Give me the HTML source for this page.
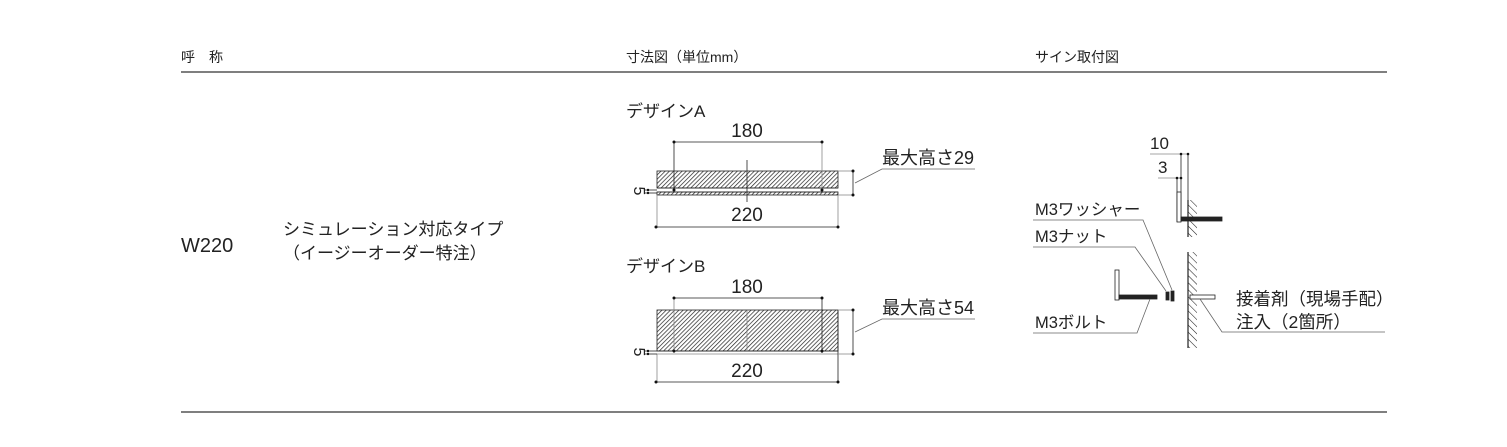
<!DOCTYPE html>
<html><head><meta charset="utf-8"><style>
html,body{margin:0;padding:0;background:#fff;}
svg{display:block;}
text{font-family:"Liberation Sans","Noto Sans CJK JP",sans-serif;fill:#222;}
</style></head><body>
<svg width="1507" height="447" viewBox="0 0 1507 447" xmlns="http://www.w3.org/2000/svg">
<defs>
<pattern id="h" width="3" height="3" patternUnits="userSpaceOnUse" patternTransform="rotate(45)">
<rect width="3" height="3" fill="#fff"/><line x1="0" y1="0" x2="0" y2="3" stroke="#222" stroke-width="1.4"/>
</pattern>
<pattern id="w" width="5" height="5" patternUnits="userSpaceOnUse" patternTransform="rotate(-45)">
<line x1="0" y1="0" x2="0" y2="5" stroke="#222" stroke-width="1.1"/>
</pattern>
</defs>
<text x="181" y="62" font-size="14">呼　称</text>
<text x="626" y="62" font-size="14">寸法図（単位mm）</text>
<text x="1035" y="62" font-size="14">サイン取付図</text>
<line x1="181" y1="72" x2="1387" y2="72" stroke="#333" stroke-width="1.2"/>
<line x1="181" y1="412" x2="1387" y2="412" stroke="#333" stroke-width="1.2"/>
<text x="181" y="252" font-size="20">W220</text>
<text x="283" y="235" font-size="17">シミュレーション対応タイプ</text>
<text x="283" y="259" font-size="17">（イージーオーダー特注）</text>

<g stroke="#222" fill="none" stroke-width="0.8">
<rect x="657" y="171" width="181" height="17" fill="url(#h)"/>
<rect x="657" y="192" width="181" height="3" fill="url(#h)"/>
<line x1="657" y1="188" x2="838" y2="188"/><line x1="657" y1="192" x2="838" y2="192"/>
<line x1="674" y1="142" x2="822" y2="142"/>
<line x1="674" y1="142" x2="674" y2="190"/><line x1="822" y1="142" x2="822" y2="190" stroke="#888"/>
<line x1="747" y1="160" x2="747" y2="202"/>
<line x1="657" y1="195" x2="657" y2="228" stroke="#888"/><line x1="838" y1="195" x2="838" y2="228" stroke="#888"/>
<line x1="656" y1="227" x2="838" y2="227"/>
<line x1="838" y1="171" x2="853" y2="171" stroke="#888"/><line x1="838" y1="195" x2="853" y2="195" stroke="#888"/>
<line x1="853" y1="171" x2="853" y2="195"/>
<polyline points="855,183 882,169 975,169" stroke="#666"/>
<line x1="645" y1="190" x2="657" y2="190"/><line x1="645" y1="193" x2="657" y2="193"/>
<rect x="657" y="310" width="181" height="41" fill="url(#h)"/>
<line x1="657" y1="351" x2="838" y2="351"/><line x1="657" y1="354" x2="838" y2="354" stroke="#888"/>
<line x1="674" y1="298" x2="822" y2="298"/>
<line x1="674" y1="298" x2="674" y2="353" stroke="#888"/><line x1="822" y1="298" x2="822" y2="353"/>
<line x1="747" y1="310" x2="747" y2="351" stroke="#888"/>
<line x1="657" y1="354" x2="657" y2="383" stroke="#888"/><line x1="838" y1="310" x2="838" y2="383"/>
<line x1="656" y1="382" x2="838" y2="382"/>
<line x1="838" y1="310" x2="853" y2="310" stroke="#888"/><line x1="838" y1="354" x2="853" y2="354" stroke="#888"/>
<line x1="853" y1="310" x2="853" y2="354"/>
<polyline points="855,332 882,319 975,319" stroke="#666"/>
<line x1="645" y1="351" x2="657" y2="351"/><line x1="645" y1="354" x2="657" y2="354"/>
</g>
<g fill="#111">
<circle cx="674" cy="142" r="1.5"/><circle cx="822" cy="142" r="1.5"/>
<circle cx="674" cy="190" r="1.5"/><circle cx="822" cy="190" r="1.5"/>
<circle cx="656" cy="227" r="1.5"/><circle cx="838" cy="227" r="1.5"/>
<circle cx="853" cy="171" r="1.5"/><circle cx="853" cy="195" r="1.5"/>
<circle cx="648" cy="190" r="1.2"/><circle cx="648" cy="193" r="1.2"/>
<circle cx="674" cy="298" r="1.5"/><circle cx="822" cy="298" r="1.5"/>
<circle cx="674" cy="351" r="1.5"/><circle cx="822" cy="351" r="1.5"/>
<circle cx="656" cy="382" r="1.5"/><circle cx="838" cy="382" r="1.5"/>
<circle cx="853" cy="310" r="1.5"/><circle cx="853" cy="354" r="1.5"/>
<circle cx="648" cy="351" r="1.2"/><circle cx="648" cy="354" r="1.2"/>
</g>
<text x="626" y="117" font-size="17">デザインA</text>
<text x="747" y="137" font-size="19" text-anchor="middle">180</text>
<text x="747" y="221" font-size="19" text-anchor="middle">220</text>
<text x="882" y="164" font-size="18">最大高さ29</text>
<text transform="translate(634,191) rotate(90)" font-size="16" text-anchor="middle">5</text>
<text x="626" y="272" font-size="17">デザインB</text>
<text x="747" y="293" font-size="19" text-anchor="middle">180</text>
<text x="747" y="377" font-size="19" text-anchor="middle">220</text>
<text x="882" y="314" font-size="18">最大高さ54</text>
<text transform="translate(634,352) rotate(90)" font-size="16" text-anchor="middle">5</text>

<g stroke="#222" fill="none" stroke-width="0.8">
<line x1="1150" y1="154" x2="1188" y2="154" stroke="#888"/>
<line x1="1158" y1="178" x2="1181" y2="178" stroke="#888"/>
<line x1="1181" y1="154" x2="1181" y2="222"/><line x1="1188" y1="154" x2="1188" y2="200"/>
<line x1="1177" y1="178" x2="1177" y2="222"/>
<rect x="1177" y="192" width="4" height="30" fill="#fff"/>
<rect x="1188" y="200" width="9" height="37" fill="url(#w)" stroke="none"/>
<line x1="1188" y1="200" x2="1188" y2="237" stroke-width="1.2"/>
<rect x="1181" y="217" width="41" height="4" fill="#222"/>
<rect x="1188" y="252" width="9" height="96" fill="url(#w)" stroke="none"/>
<line x1="1188" y1="252" x2="1188" y2="348" stroke-width="1.2"/>
<rect x="1115" y="270" width="4" height="30" fill="#fff"/>
<rect x="1119" y="295" width="38" height="4" fill="#222"/>
<rect x="1166" y="292" width="3" height="8" fill="#222"/>
<rect x="1171" y="291" width="3" height="10" fill="#222"/>
<rect x="1190" y="295" width="25" height="4" fill="#fff"/>
<polyline points="1033,220 1143,220 1172,290" stroke="#666"/>
<polyline points="1033,247 1135,247 1166,291" stroke="#666"/>
<polyline points="1033,333 1137,333 1150,299" stroke="#666"/>
<polyline points="1385,332 1222,332 1200,299" stroke="#666"/>
</g>
<g fill="#111"><circle cx="1181" cy="154" r="1.3"/><circle cx="1188" cy="154" r="1.3"/><circle cx="1177" cy="178" r="1.3"/><circle cx="1181" cy="178" r="1.3"/></g>
<text x="1150" y="149" font-size="17">10</text>
<text x="1158" y="173" font-size="17">3</text>
<text x="1035" y="215" font-size="16.5">M3ワッシャー</text>
<text x="1035" y="242" font-size="16.5">M3ナット</text>
<text x="1035" y="328" font-size="16.5">M3ボルト</text>
<text x="1236" y="305" font-size="17.5">接着剤（現場手配）</text>
<text x="1236" y="328" font-size="17.5">注入（2箇所）</text>
</svg>
</body></html>
